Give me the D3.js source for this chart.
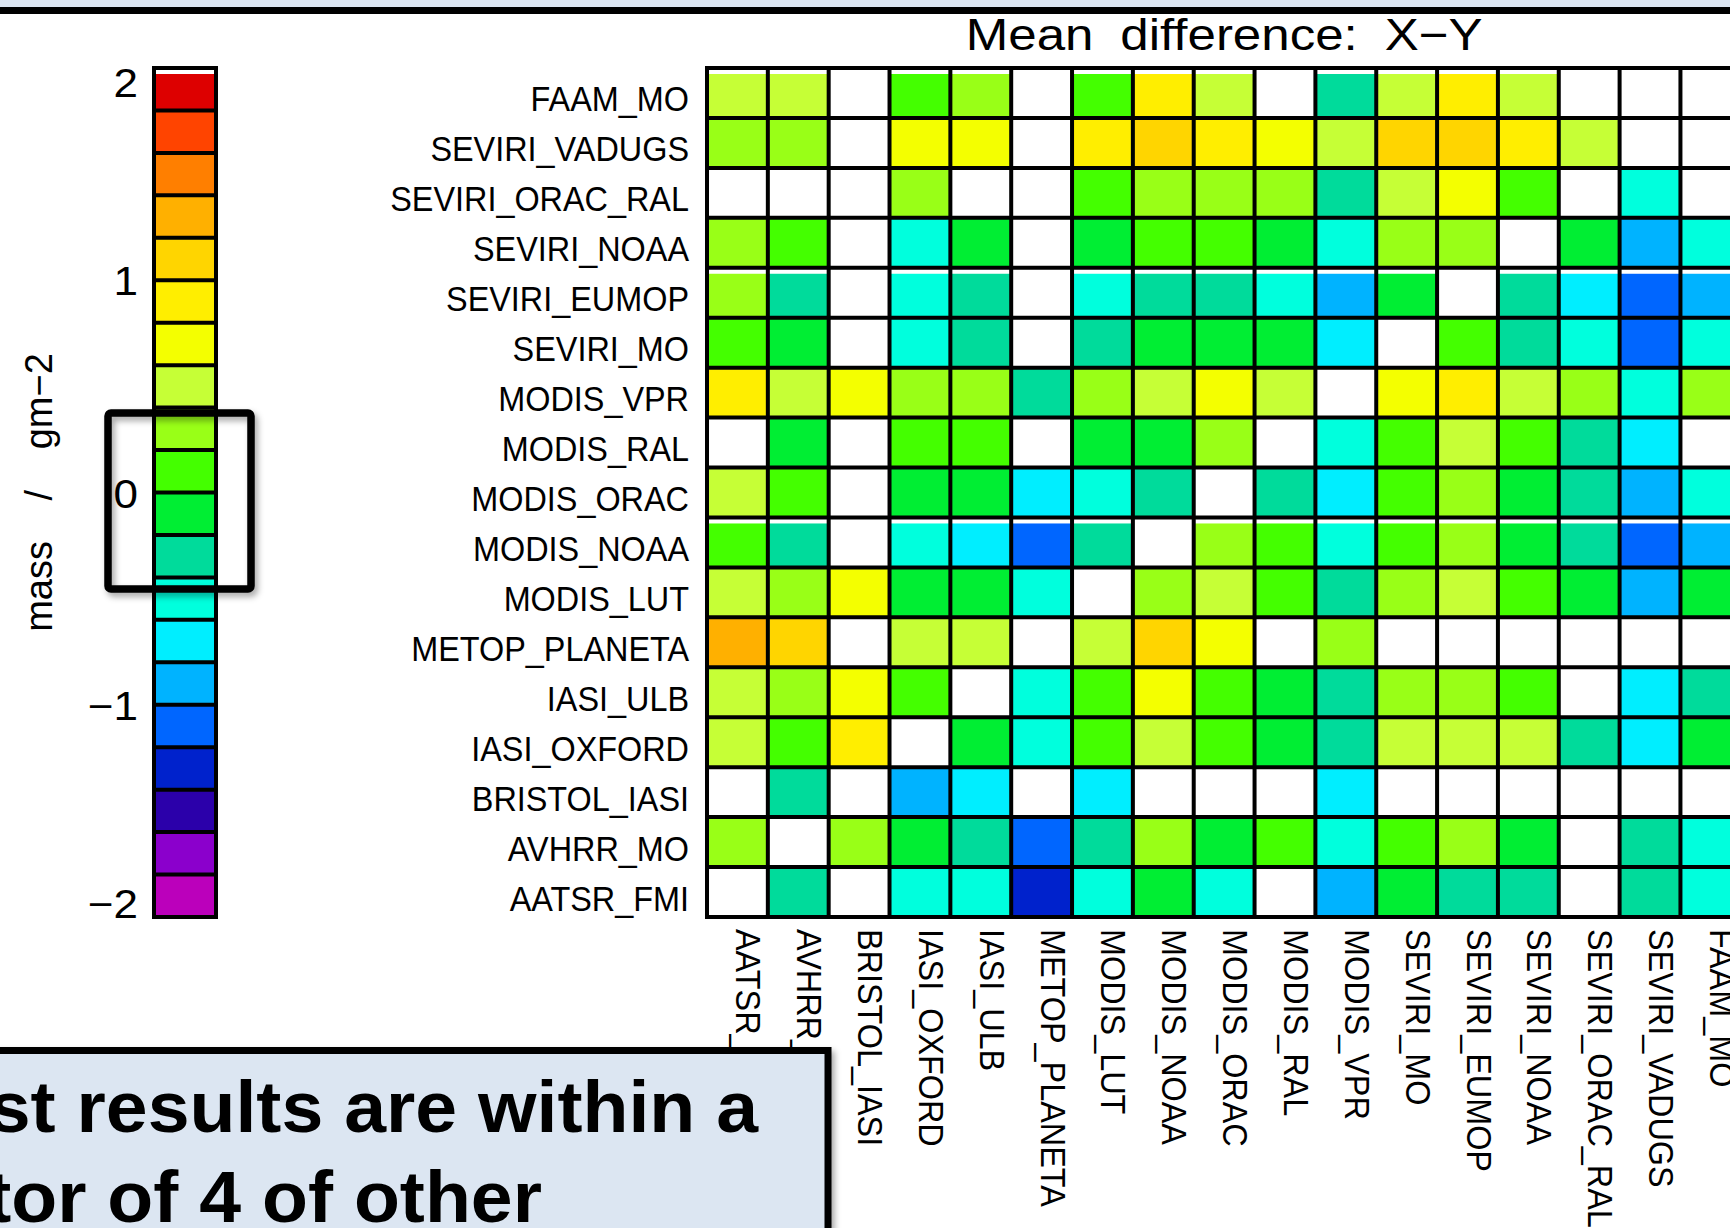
<!DOCTYPE html>
<html>
<head>
<meta charset="utf-8">
<script src="https://cdn.jsdelivr.net/npm/d3@7"></script>
<style>
html, body { margin: 0; padding: 0; background: #ffffff; overflow: hidden; }
svg { display: block; }
</style>
</head>
<body>
<svg id="chart" width="1730" height="1228"></svg>
<script>
// ---------------- DATA ----------------
const rowNames = ["FAAM_MO", "SEVIRI_VADUGS", "SEVIRI_ORAC_RAL", "SEVIRI_NOAA", "SEVIRI_EUMOP",
  "SEVIRI_MO", "MODIS_VPR", "MODIS_RAL", "MODIS_ORAC", "MODIS_NOAA", "MODIS_LUT",
  "METOP_PLANETA", "IASI_ULB", "IASI_OXFORD", "BRISTOL_IASI", "AVHRR_MO", "AATSR_FMI"];

const colNames = ["AATSR_FMI", "AVHRR_MO", "BRISTOL_IASI", "IASI_OXFORD", "IASI_ULB",
  "METOP_PLANETA", "MODIS_LUT", "MODIS_NOAA", "MODIS_ORAC", "MODIS_RAL", "MODIS_VPR",
  "SEVIRI_MO", "SEVIRI_EUMOP", "SEVIRI_NOAA", "SEVIRI_ORAC_RAL", "SEVIRI_VADUGS", "FAAM_MO"];

// Mean difference X-Y (mass, g m-2); one array per row (X), columns follow colNames (Y); null = no data
const meanDiff = [
  [ 0.5,  0.5, null,  0.1,  0.3, null,  0.1,  0.9,  0.5, null, -0.3,  0.5,  0.9,  0.5, null, null, null],
  [ 0.3,  0.3, null,  0.7,  0.7, null,  0.9,  1.1,  0.9,  0.7,  0.5,  1.1,  1.1,  0.9,  0.5, null, null],
  [null, null, null,  0.3, null, null,  0.1,  0.3,  0.3,  0.3, -0.3,  0.5,  0.7,  0.1, null, -0.5, null],
  [ 0.3,  0.1, null, -0.5, -0.1, null, -0.1,  0.1,  0.1, -0.1, -0.5,  0.3,  0.3, null, -0.1, -0.9, -0.5],
  [ 0.3, -0.3, null, -0.5, -0.3, null, -0.5, -0.3, -0.3, -0.5, -0.9, -0.1, null, -0.3, -0.7, -1.1, -0.9],
  [ 0.1, -0.1, null, -0.5, -0.3, null, -0.3, -0.1, -0.1, -0.1, -0.7, null,  0.1, -0.3, -0.5, -1.1, -0.5],
  [ 0.9,  0.5,  0.7,  0.3,  0.3, -0.3,  0.3,  0.5,  0.7,  0.5, null,  0.7,  0.9,  0.5,  0.3, -0.5,  0.3],
  [null, -0.1, null,  0.1,  0.1, null, -0.1, -0.1,  0.3, null, -0.5,  0.1,  0.5,  0.1, -0.3, -0.7, null],
  [ 0.5,  0.1, null, -0.1, -0.1, -0.7, -0.5, -0.3, null, -0.3, -0.7,  0.1,  0.3, -0.1, -0.3, -0.9, -0.5],
  [ 0.1, -0.3, null, -0.5, -0.7, -1.1, -0.3, null,  0.3,  0.1, -0.5,  0.1,  0.3, -0.1, -0.3, -1.1, -0.9],
  [ 0.5,  0.3,  0.7, -0.1, -0.1, -0.5, null,  0.3,  0.5,  0.1, -0.3,  0.3,  0.5,  0.1, -0.1, -0.9, -0.1],
  [ 1.3,  1.1, null,  0.5,  0.5, null,  0.5,  1.1,  0.7, null,  0.3, null, null, null, null, null, null],
  [ 0.5,  0.3,  0.7,  0.1, null, -0.5,  0.1,  0.7,  0.1, -0.1, -0.3,  0.3,  0.3,  0.1, null, -0.7, -0.3],
  [ 0.5,  0.1,  0.9, null, -0.1, -0.5,  0.1,  0.5,  0.1, -0.1, -0.3,  0.5,  0.5,  0.5, -0.3, -0.7, -0.1],
  [null, -0.3, null, -0.9, -0.7, null, -0.7, null, null, null, -0.7, null, null, null, null, null, null],
  [ 0.3, null,  0.3, -0.1, -0.3, -1.1, -0.3,  0.3, -0.1,  0.1, -0.5,  0.1,  0.3, -0.1, null, -0.3, -0.5],
  [null, -0.3, null, -0.5, -0.5, -1.3, -0.5, -0.1, -0.5, null, -0.9, -0.1, -0.3, -0.3, null, -0.3, -0.5]
];

// Colour table, from -2 (bottom) to +2 (top), 20 levels of 0.2
const levelColors = ["#bb00bb", "#8b00cc", "#2b00aa", "#0022cc", "#0066ff", "#00b3ff", "#00eeff",
  "#00ffdd", "#00db9b", "#00ee33", "#44ff00", "#99ff17", "#c6ff36", "#f4ff00", "#ffee00",
  "#ffd500", "#ffb000", "#ff7f00", "#ff4400", "#dd0000"];
const colorDomain = [-2, 2];
const colorbarTicks = [2, 1, 0, -1, -2];

const titleText = "Mean difference: X\u2212Y";
const colorbarTitle = "mass / gm\u22122";
const noteLines = ["st results are within a", "tor of 4 of other"];

// rows / top colour level drawn with the small white strip seen in the original
const stripRows = ["FAAM_MO", "SEVIRI_EUMOP", "MODIS_NOAA"];

// ---------------- DRAWING ----------------
const W = 1730, H = 1228;
const svg = d3.select("#chart");
const FONT = "'Liberation Sans', Arial, Helvetica, sans-serif";

const defs = svg.append("defs");
const sh = defs.append("filter").attr("id", "shadow").attr("x", "-20%").attr("y", "-20%")
  .attr("width", "140%").attr("height", "140%");
sh.append("feDropShadow").attr("dx", 3).attr("dy", 4).attr("stdDeviation", 3)
  .attr("flood-color", "#000").attr("flood-opacity", 0.35);

svg.append("rect").attr("width", W).attr("height", H).attr("fill", "#ffffff");

// top strip (slide frame)
svg.append("rect").attr("x", 0).attr("y", 0).attr("width", W).attr("height", 7).attr("fill", "#dce6f2");
svg.append("rect").attr("x", 0).attr("y", 7).attr("width", W).attr("height", 7).attr("fill", "#000");

// scales
const x = d3.scaleBand().domain(colNames).range([707, 707 + 17 * 60.84]);
const y = d3.scaleBand().domain(rowNames).range([68, 917]);
const color = d3.scaleQuantize().domain(colorDomain).range(levelColors);
const LW = 4;

// cells
const cells = [];
rowNames.forEach((r, i) => colNames.forEach((c, j) => {
  if (meanDiff[i][j] !== null) cells.push({ r, c, v: meanDiff[i][j] });
}));
svg.append("g").selectAll("rect").data(cells).join("rect")
  .attr("x", d => x(d.c))
  .attr("y", d => y(d.r) + (stripRows.includes(d.r) ? 6 : 0))
  .attr("width", x.bandwidth())
  .attr("height", d => y.bandwidth() - (stripRows.includes(d.r) ? 6 : 0))
  .attr("fill", d => color(d.v));

// grid lines
const grid = svg.append("g").attr("stroke", "#000").attr("stroke-width", LW).attr("stroke-linecap", "square");
const xEdges = colNames.map(c => x(c)).concat([x.range()[1]]);
const yEdges = rowNames.map(r => y(r)).concat([y.range()[1]]);
grid.selectAll("line.v").data(xEdges).join("line").attr("class", "v")
  .attr("x1", d => d).attr("x2", d => d).attr("y1", y.range()[0]).attr("y2", y.range()[1]);
grid.selectAll("line.h").data(yEdges).join("line").attr("class", "h")
  .attr("x1", x.range()[0]).attr("x2", x.range()[1]).attr("y1", d => d).attr("y2", d => d);

// title
svg.append("text")
  .attr("transform", `translate(${(x.range()[0] + x.range()[1]) / 2},50) scale(1.16,1)`)
  .attr("text-anchor", "middle").attr("font-family", FONT).attr("font-size", 44)
  .attr("word-spacing", 11).attr("fill", "#000").text(titleText);

// row labels
svg.append("g").selectAll("text").data(rowNames).join("text")
  .attr("transform", d => `translate(689,${y(d) + y.bandwidth() / 2 + 18.5}) scale(0.9,1)`)
  .attr("text-anchor", "end").attr("font-family", FONT).attr("font-size", 36).attr("fill", "#000")
  .text(d => d);

// column labels
svg.append("g").selectAll("text").data(colNames).join("text")
  .attr("transform", d => `translate(${x(d) + x.bandwidth() / 2 - 1},929) rotate(90) scale(0.9,1)`)
  .attr("text-anchor", "start").attr("font-family", FONT).attr("font-size", 36).attr("fill", "#000")
  .text(d => d);

// colour bar
const cbX0 = 154, cbX1 = 216;
const cb = d3.scaleLinear().domain(colorDomain).range([917, 68]);
const segs = levelColors.map(c => { const e = color.invertExtent(c); return { c, lo: e[0], hi: e[1] }; });
svg.append("g").selectAll("rect").data(segs).join("rect")
  .attr("x", cbX0).attr("width", cbX1 - cbX0)
  .attr("y", d => cb(d.hi) + (d.hi >= colorDomain[1] ? 6 : 0))
  .attr("height", d => cb(d.lo) - cb(d.hi) - (d.hi >= colorDomain[1] ? 6 : 0))
  .attr("fill", d => d.c);
const cbg = svg.append("g").attr("stroke", "#000").attr("stroke-width", LW).attr("stroke-linecap", "square");
cbg.selectAll("line.s").data(segs.map(d => d.lo).concat([colorDomain[1]])).join("line").attr("class", "s")
  .attr("x1", cbX0).attr("x2", cbX1).attr("y1", d => cb(d)).attr("y2", d => cb(d));
cbg.append("line").attr("x1", cbX0).attr("x2", cbX0).attr("y1", cb(2)).attr("y2", cb(-2));
cbg.append("line").attr("x1", cbX1).attr("x2", cbX1).attr("y1", cb(2)).attr("y2", cb(-2));

// colour bar tick labels
svg.append("g").selectAll("text").data(colorbarTicks).join("text")
  .attr("transform", d => `translate(138,${Math.min(Math.max(cb(d) + 15, cb(2) + 29), cb(-2) + 1)}) scale(1.1,1)`)
  .attr("text-anchor", "end").attr("font-family", FONT).attr("font-size", 40).attr("fill", "#000")
  .text(d => d < 0 ? "\u2212" + Math.abs(d) : String(d));

// colour bar title
svg.append("text")
  .attr("transform", `translate(52,${(cb(2) + cb(-2)) / 2}) rotate(-90)`)
  .attr("text-anchor", "middle").attr("font-family", FONT).attr("font-size", 38)
  .attr("word-spacing", 30).attr("fill", "#000").text(colorbarTitle);

// highlight box around zero
svg.append("rect").attr("x", 108).attr("y", 413).attr("width", 143).attr("height", 176)
  .attr("rx", 3).attr("fill", "none").attr("stroke", "#000").attr("stroke-width", 7.5)
  .attr("filter", "url(#shadow)");

// note box
svg.append("rect").attr("x", -20).attr("y", 1050.5).attr("width", 848).attr("height", 300)
  .attr("fill", "#dce6f2").attr("stroke", "#000").attr("stroke-width", 7)
  .attr("filter", "url(#shadow)");
svg.append("g").selectAll("text").data(noteLines).join("text")
  .attr("transform", (d, i) => `translate(${i === 0 ? 758 : 542},${1132 + i * 90}) scale(1.045,1)`)
  .attr("text-anchor", "end").attr("font-family", FONT).attr("font-weight", "bold")
  .attr("font-size", 72).attr("fill", "#000").text(d => d);
</script>
</body>
</html>
